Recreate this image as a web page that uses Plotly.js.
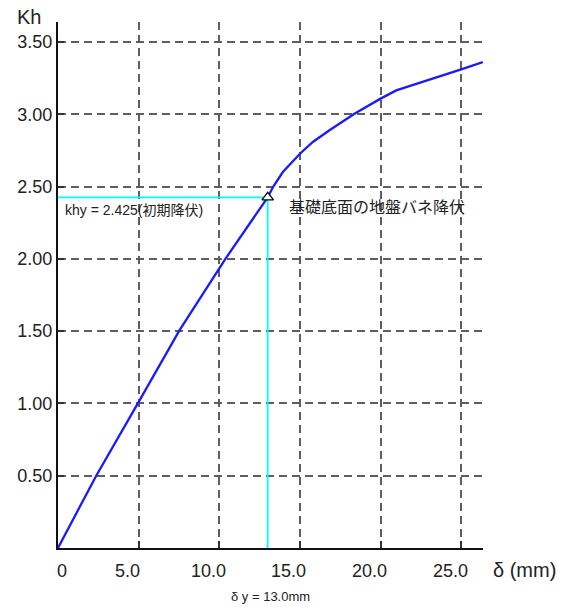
<!DOCTYPE html>
<html>
<head>
<meta charset="utf-8">
<script src="https://cdn.plot.ly/plotly-3.0.1.min.js"></script>
<style>html,body{margin:0;padding:0;background:#fff;}#chart{width:562px;height:608px;}</style>
</head>
<body>
<div id="chart"></div>
<script>
// Data
const delta = [0, 2.37, 4.95, 7.53, 10.38, 13.0, 13.35, 13.94, 15.0, 15.8, 16.83, 17.66, 18.38, 20.0, 20.97, 25.0, 26.34];
const kh    = [0, 0.50, 1.00, 1.505, 2.00, 2.425, 2.50, 2.60, 2.727, 2.808, 2.889, 2.953, 3.004, 3.108, 3.165, 3.31, 3.36];
const yieldDelta = 13.0;
const yieldKh = 2.425;
const xTickVals = [0, 5, 10, 15, 20, 25];
const xTickText = ['0', '5.0', '10.0', '15.0', '20.0', '25.0'];
const yTickVals = [0.5, 1.0, 1.5, 2.0, 2.5, 3.0, 3.5];
const yTickText = ['0.50', '1.00', '1.50', '2.00', '2.50', '3.00', '3.50'];
const khyLabel = 'khy = 2.425(初期降伏)';
const yieldLabel = '基礎底面の地盤バネ降伏';
const dyLabel = 'δ y = 13.0mm';

const latin = 'Liberation Sans, Arial, sans-serif';
const cjk = 'Liberation Sans, Noto Sans CJK JP, sans-serif';

const traces = [
  {
    x: [0, yieldDelta, yieldDelta],
    y: [yieldKh, yieldKh, 0],
    mode: 'lines',
    line: {color: '#00ffff', width: 1.8},
    hoverinfo: 'skip', showlegend: false
  },
  {
    x: delta, y: kh,
    mode: 'lines',
    line: {color: '#1a1aff', width: 2.3},
    showlegend: false
  },
  {
    x: [yieldDelta], y: [yieldKh],
    mode: 'markers',
    marker: {symbol: 'triangle-up', size: 10, color: '#ffffff', line: {color: '#000', width: 1.3}},
    showlegend: false
  }
];

const annotations = [];
xTickVals.forEach((v, i) => {
  annotations.push({
    x: v, y: 0, xref: 'x', yref: 'y', text: xTickText[i],
    showarrow: false, xanchor: 'center', yanchor: 'middle',
    xshift: v === 0 ? 4 : -11, yshift: -23,
    font: {family: latin, size: 18, color: '#222'}
  });
});
annotations.push(
  {x: 0, y: 1, xref: 'paper', yref: 'paper', text: 'Kh', showarrow: false,
   xanchor: 'left', yanchor: 'middle', xshift: -43, yshift: 5,
   font: {family: latin, size: 20, color: '#222'}},
  {x: 1, y: 0, xref: 'paper', yref: 'paper', text: 'δ (mm)', showarrow: false,
   xanchor: 'left', yanchor: 'middle', xshift: 8, yshift: -22,
   font: {family: latin, size: 20, color: '#222'}},
  {x: 0, y: yieldKh, xref: 'x', yref: 'y', text: khyLabel, showarrow: false,
   xanchor: 'left', yanchor: 'middle', xshift: 5, yshift: -13,
   font: {family: cjk, size: 14, color: '#222'}},
  {x: yieldDelta, y: yieldKh, xref: 'x', yref: 'y', text: yieldLabel, showarrow: false,
   xanchor: 'left', yanchor: 'middle', xshift: 19, yshift: -10,
   font: {family: cjk, size: 16, color: '#222'}},
  {x: yieldDelta, y: 0, xref: 'x', yref: 'y', text: dyLabel, showarrow: false,
   xanchor: 'center', yanchor: 'middle', xshift: 3, yshift: -48,
   font: {family: cjk, size: 13, color: '#222'}}
);

const layout = {
  width: 562, height: 608,
  margin: {l: 58, r: 79, t: 22, b: 60, pad: 0},
  paper_bgcolor: '#fff', plot_bgcolor: '#fff',
  xaxis: {
    range: [0, 26.35], tickvals: xTickVals, showticklabels: false,
    showgrid: true, gridcolor: '#5e5e5e', gridwidth: 2, griddash: '8px,5px',
    zeroline: false, showline: true, linecolor: '#111', linewidth: 2,
    ticks: 'inside', ticklen: 7, tickwidth: 2, tickcolor: '#333'
  },
  yaxis: {
    range: [0, 3.638], tickvals: yTickVals, ticktext: yTickText,
    showgrid: true, gridcolor: '#5e5e5e', gridwidth: 2, griddash: '8px,5px',
    zeroline: false, showline: true, linecolor: '#111', linewidth: 2,
    ticks: 'inside', ticklen: 6, tickwidth: 2, tickcolor: '#333',
    tickfont: {family: latin, size: 18, color: '#222'}
  },
  annotations: annotations,
  showlegend: false
};

Plotly.newPlot('chart', traces, layout, {displayModeBar: false, staticPlot: true});
</script>
</body>
</html>
